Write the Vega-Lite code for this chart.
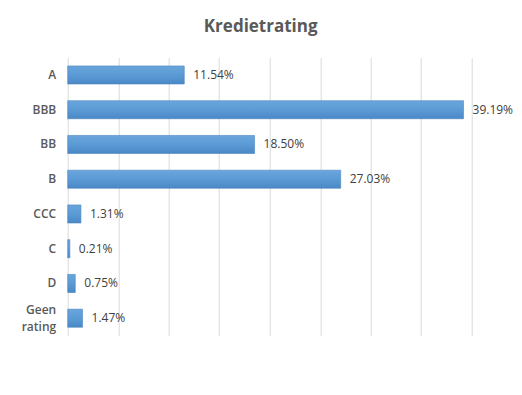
{
  "$schema": "https://vega.github.io/schema/vega-lite/v6.json",
  "width": 404,
  "height": 278,
  "autosize": {"type": "none"},
  "padding": {"left": 67.7, "top": 57.6, "right": 50.3, "bottom": 59.4},
  "background": "white",
  "title": {
    "text": "Kredietrating",
    "font": "Open Sans",
    "fontSize": 17,
    "fontWeight": "bold",
    "color": "#595959",
    "anchor": "middle",
    "dx": -9,
    "baseline": "alphabetic",
    "offset": 9
  },
  "data": {
    "values": [
      {"rating": "A", "share": 0.1154},
      {"rating": "BBB", "share": 0.3919},
      {"rating": "BB", "share": 0.185},
      {"rating": "B", "share": 0.2703},
      {"rating": "CCC", "share": 0.0131},
      {"rating": "C", "share": 0.0021},
      {"rating": "D", "share": 0.0075},
      {"rating": "Geen rating", "share": 0.0147}
    ]
  },
  "encoding": {
    "y": {
      "field": "rating",
      "type": "nominal",
      "sort": null,
      "scale": {"paddingInner": 0.48, "paddingOuter": 0.24},
      "axis": {
        "title": null,
        "ticks": false,
        "domain": false,
        "grid": false,
        "labelPadding": 12,
        "labelFont": "Open Sans",
        "labelFontSize": 12,
        "labelFontWeight": 600,
        "labelColor": "#595959",
        "labelLineHeight": 17,
        "labelOffset": {"condition": {"test": "datum.value == 'Geen rating'", "value": -8.5}, "value": 0},
        "labelExpr": "datum.value == 'Geen rating' ? ['Geen', 'rating'] : datum.label"
      }
    },
    "x": {
      "field": "share",
      "type": "quantitative",
      "scale": {"domain": [0, 0.4], "nice": false},
      "axis": {
        "title": null,
        "labels": false,
        "ticks": false,
        "domain": false,
        "values": [0, 0.05, 0.1, 0.15, 0.2, 0.25, 0.3, 0.35, 0.4],
        "gridColor": "#d9d9d9",
        "gridWidth": 1
      }
    }
  },
  "layer": [
    {
      "mark": {
        "type": "bar",
        "color": {
          "gradient": "linear",
          "x1": 0, "y1": 0, "x2": 0, "y2": 1,
          "stops": [
            {"offset": 0, "color": "#6aa5dc"},
            {"offset": 0.5, "color": "#5b9bd5"},
            {"offset": 1, "color": "#4a88c6"}
          ]
        },
        "stroke": "#4a85c0",
        "strokeWidth": 0.6
      }
    },
    {
      "mark": {
        "type": "text",
        "align": "left",
        "baseline": "middle",
        "dx": 9,
        "font": "Open Sans",
        "fontSize": 12,
        "color": "#404040"
      },
      "encoding": {
        "text": {"field": "share", "type": "quantitative", "format": ".2%"}
      }
    }
  ],
  "config": {"view": {"stroke": null}}
}
